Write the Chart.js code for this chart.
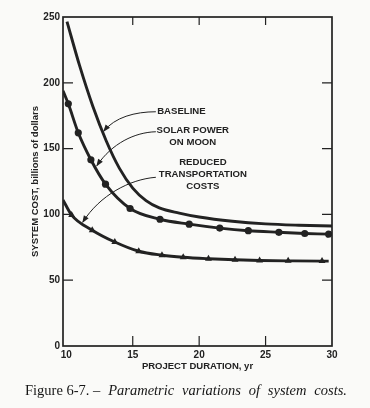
<!DOCTYPE html>
<html>
<head>
<meta charset="utf-8">
<script src="https://cdn.jsdelivr.net/npm/chart.js@4.4.1/dist/chart.umd.min.js"></script>
<style>
  html, body { margin: 0; padding: 0; background: #fafaf8; }
  #wrap { position: relative; width: 370px; height: 408px; }
  #caption {
    position: absolute; left: 25px; width: 322px; top: 382px;
    display: flex; justify-content: space-between;
    font-family: "Liberation Serif", "Times New Roman", serif;
    font-size: 14.5px; color: #161616; white-space: nowrap;
  }
  #caption i { font-style: italic; }
</style>
</head>
<body>
<div id="wrap">
  <canvas id="costChart" width="370" height="408"></canvas>
  <div id="caption">
    <span>Figure 6-7. &ndash;</span>
    <i>Parametric</i><i>variations</i><i>of</i><i>system</i><i>costs.</i>
  </div>
</div>
<script>
// project duration (yr) vs system cost (billions of dollars)
const baselineYears = [10.05, 11, 12, 13, 14, 15, 16, 17, 18.5, 20, 22.5, 25, 27.5, 30];
const baselineCost  = [246.5, 213, 182, 156, 135, 120, 110.5, 105, 101, 98, 94.8, 92.8, 91.8, 91.2];

// first and last entries are the curve ends, the rest carry markers
const solarYears = [9.75, 10.15, 10.9, 11.85, 12.95, 14.8, 17.05, 19.25, 21.55, 23.7, 26.0, 27.95, 29.75, 30];
const solarCost  = [194, 184, 162, 141.5, 123, 104.5, 96.3, 92.6, 89.6, 87.6, 86.4, 85.5, 85.0, 84.9];

const reducedYears = [9.75, 10.4, 11.95, 13.65, 15.45, 17.2, 18.8, 20.7, 22.7, 24.55, 26.7, 29.25, 29.75];
const reducedCost  = [111, 99.5, 88, 79, 72, 69, 67.4, 66.3, 65.5, 65.0, 64.7, 64.5, 64.5];

const xTicks = [10, 15, 20, 25, 30];
const yTicks = [0, 50, 100, 150, 200, 250];

const ink = '#222222';
const sans = '"Liberation Sans", Arial, Helvetica, sans-serif';

// callout labels and leader curves, in data units
const notes = [
  { lines: ['BASELINE'], align: 'left', x: 16.84, y: [178.5],
    curve: [[16.74, 178.0], [15.16, 178.0], [13.65, 173.8], [12.82, 163.2]] },
  { lines: ['SOLAR POWER', 'ON MOON'], align: 'center', x: 19.52, y: [163.8, 155.1],
    curve: [[16.74, 162.8], [15.16, 162.4], [13.43, 154.0], [12.3, 137]] },
  { lines: ['REDUCED', 'TRANSPORTATION', 'COSTS'], align: 'center', x: 20.28, y: [139.7, 130.8, 121.6],
    curve: [[16.74, 128.2], [14.78, 126.7], [12.52, 114.6], [11.24, 94.1]] }
];

function toPoints(xs, ys) {
  return xs.map((x, i) => ({ x: x, y: ys[i] }));
}

function endsBare(radius) {
  return ctx => {
    const last = ctx.dataset.data.length - 1;
    return (ctx.dataIndex === 0 || ctx.dataIndex === last) ? 0 : radius;
  };
}

const paperFrame = {
  id: 'paperFrame',
  beforeDraw(chart) {
    const c = chart.ctx;
    c.save();
    c.fillStyle = '#fafaf8';
    c.fillRect(0, 0, chart.width, chart.height);
    c.restore();
  },
  afterDraw(chart) {
    const c = chart.ctx;
    const a = chart.chartArea;
    const xs = chart.scales.x, ys = chart.scales.y;
    c.save();
    c.strokeStyle = ink;
    c.lineWidth = 1.7;
    c.strokeRect(a.left, a.top, a.right - a.left, a.bottom - a.top);
    c.lineWidth = 1.2;
    c.beginPath();
    yTicks.slice(1, -1).forEach(v => {
      const py = ys.getPixelForValue(v);
      c.moveTo(a.left, py); c.lineTo(a.left + 10, py);
      c.moveTo(a.right, py); c.lineTo(a.right - 10, py);
    });
    xTicks.slice(1, -1).forEach(v => {
      const px = xs.getPixelForValue(v);
      c.moveTo(px, a.bottom); c.lineTo(px, a.bottom - 10);
      c.moveTo(px, a.top); c.lineTo(px, a.top + 8);
    });
    c.stroke();

    // callouts
    c.fillStyle = ink;
    c.font = 'bold 9.6px ' + sans;
    c.textBaseline = 'middle';
    notes.forEach(n => {
      c.textAlign = n.align;
      n.lines.forEach((t, i) => {
        c.fillText(t, xs.getPixelForValue(n.x), ys.getPixelForValue(n.y[i]));
      });
      const p = n.curve.map(q => [xs.getPixelForValue(q[0]), ys.getPixelForValue(q[1])]);
      c.lineWidth = 1;
      c.beginPath();
      c.moveTo(p[0][0], p[0][1]);
      c.bezierCurveTo(p[1][0], p[1][1], p[2][0], p[2][1], p[3][0], p[3][1]);
      c.stroke();
      const ang = Math.atan2(p[3][1] - p[2][1], p[3][0] - p[2][0]);
      c.save();
      c.translate(p[3][0], p[3][1]);
      c.rotate(ang);
      c.beginPath();
      c.moveTo(1, 0); c.lineTo(-6.5, -2.8); c.lineTo(-6.5, 2.8); c.closePath();
      c.fill();
      c.restore();
    });
    c.restore();
  }
};

const tickFont = { family: sans, size: 10, weight: 'bold' };
const titleFont = { family: sans, size: 9.5, weight: 'bold' };

new Chart(document.getElementById('costChart').getContext('2d'), {
  type: 'line',
  data: {
    datasets: [
      {
        label: 'BASELINE',
        data: toPoints(baselineYears, baselineCost),
        borderColor: ink, borderWidth: 2.9,
        pointRadius: 0, cubicInterpolationMode: 'monotone'
      },
      {
        label: 'SOLAR POWER ON MOON',
        data: toPoints(solarYears, solarCost),
        borderColor: ink, borderWidth: 2.9,
        pointStyle: 'circle', pointRadius: endsBare(3.6),
        pointBackgroundColor: ink, pointBorderWidth: 0,
        cubicInterpolationMode: 'monotone'
      },
      {
        label: 'REDUCED TRANSPORTATION COSTS',
        data: toPoints(reducedYears, reducedCost),
        borderColor: ink, borderWidth: 2.9,
        pointStyle: 'triangle', pointRadius: endsBare(4),
        pointBackgroundColor: ink, pointBorderWidth: 0,
        cubicInterpolationMode: 'monotone'
      }
    ]
  },
  options: {
    responsive: false,
    animation: false,
    events: [],
    devicePixelRatio: 1,
    layout: { padding: { left: 0, top: 17, right: 38, bottom: 32 } },
    plugins: { legend: { display: false }, tooltip: { enabled: false } },
    scales: {
      x: {
        type: 'linear', min: 9.75, max: 30,
        afterBuildTicks: s => { s.ticks = xTicks.map(v => ({ value: v })); },
        afterFit: s => { s.height = 30; },
        grid: { display: false, drawTicks: false },
        border: { display: false },
        ticks: { font: tickFont, color: ink, padding: 3, maxRotation: 0, autoSkip: false },
        title: {
          display: true, text: 'PROJECT DURATION, yr', color: ink,
          font: titleFont, padding: { top: 0, bottom: 4 }
        }
      },
      y: {
        type: 'linear', min: 0, max: 250,
        afterBuildTicks: s => { s.ticks = yTicks.map(v => ({ value: v })); },
        afterFit: s => { s.width = 63; },
        grid: { display: false, drawTicks: false },
        border: { display: false },
        ticks: { font: tickFont, color: ink, padding: 3 },
        title: {
          display: true, text: 'SYSTEM COST, billions of dollars', color: ink,
          font: titleFont, padding: { top: 30, bottom: 2 }
        }
      }
    }
  },
  plugins: [paperFrame]
});
</script>
</body>
</html>
